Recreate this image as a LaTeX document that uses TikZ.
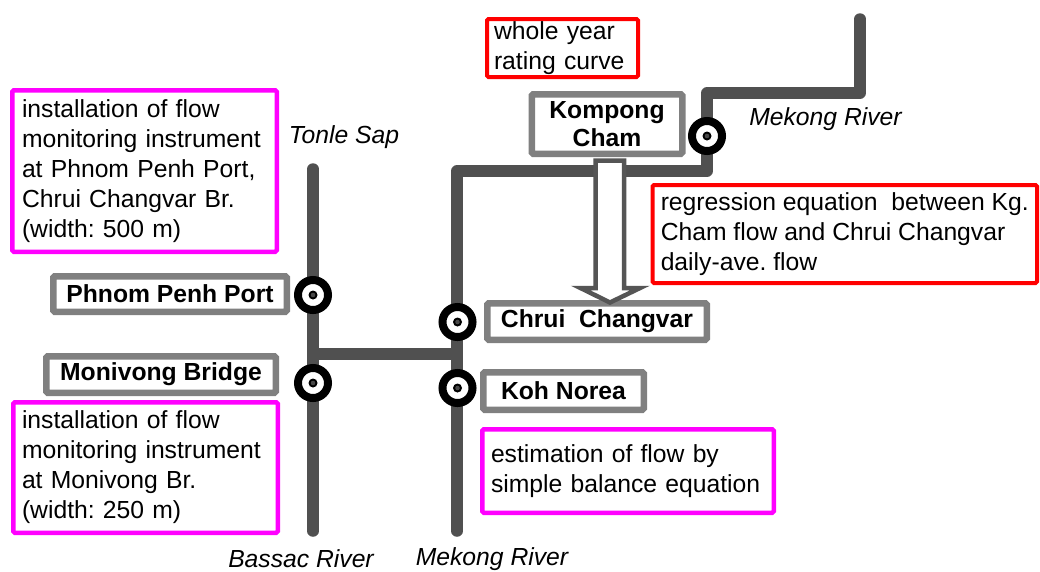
\documentclass[tikz,border=0pt]{standalone}
\usepackage{fontspec}
\setmainfont{Liberation Sans}
\definecolor{rivergray}{RGB}{80,80,80}
\definecolor{boxgray}{RGB}{128,128,128}
\definecolor{arrowgray}{RGB}{85,85,85}
\definecolor{dotgray}{RGB}{72,72,72}
\definecolor{mymagenta}{RGB}{255,0,255}
\definecolor{myred}{RGB}{255,0,0}
\begin{document}
\frenchspacing
\fontsize{24.7pt}{30pt}\selectfont
\begin{tikzpicture}[x=1pt,y=-1pt,
  river/.style={line width=11.5pt, draw=rivergray, line cap=round, line join=round},
  station/.style={circle, draw=black, line width=8pt, fill=white, minimum size=30pt, inner sep=0pt,
    path picture={\fill[black] (path picture bounding box.center) circle (4.5pt);
                  \fill[dotgray] (path picture bounding box.center) circle (2.3pt);}},
  sitebox/.style={draw=boxgray, line width=6.5pt, fill=white, rounded corners=1.5pt, font=\bfseries, inner sep=0pt, align=center},
  notebox/.style={line width=4.5pt, fill=white, rounded corners=1.5pt, align=left, inner ysep=0pt, anchor=north west},
  rivername/.style={font=\itshape, inner sep=0pt},
]
\fill[white] (0,0) rectangle (1040,571);
\useasboundingbox (0,0) rectangle (1040,571);

% rivers
\coordinate (tsTop) at (313,169);
\coordinate (bsBot) at (313,531);
\coordinate (mkBot) at (457,531);
\coordinate (mkTop) at (860,19);
\draw[river] (tsTop) -- (bsBot);
\draw[river] (mkBot) -- (457,171) -- (707,171) -- (707,93) -- (860,93) -- (mkTop);
\draw[river] (313,354) -- (457,354);

% river names
\node[rivername] (ts) at (344,137) {Tonle Sap};
\node[rivername] (mkU) at (825.5,119) {Mekong River};
\node[rivername] (bs) at (301,559) {Bassac River};
\node[rivername] (mkL) at (492,559) {Mekong River};

% note boxes
\node[notebox, draw=mymagenta, minimum width=264.5pt, minimum height=161.5pt, text width=245pt, inner xsep=9.75pt] (n1) at (10,88)
  {installation of flow\\monitoring instrument\\at Phnom Penh Port,\\Chrui Changvar Br.\\(width: 500 m)};
\node[notebox, draw=mymagenta, minimum width=264.5pt, minimum height=130.5pt, text width=247pt, inner xsep=8.75pt] (n2) at (11,400)
  {installation of flow\\monitoring instrument\\at Monivong Br.\\(width: 250 m)};
\node[notebox, draw=mymagenta, minimum width=291.5pt, minimum height=83.5pt, text width=274pt, inner xsep=8.75pt] (est) at (480,427)
  {estimation of flow by\\simple balance equation};
\node[notebox, draw=myred, line width=4pt, minimum width=151pt, minimum height=58pt, text width=137pt, inner xsep=7pt] (wy) at (485,17)
  {whole year\\rating curve};
\node[notebox, draw=myred, line width=4pt, minimum width=384.5pt, minimum height=98pt, inner xsep=0pt] (reg) at (650.5,183)
  {regression equation~ between Kg.\\Cham flow and Chrui Changvar\\daily-ave. flow};

% site boxes
\node[sitebox, minimum width=233.5pt, minimum height=35.5pt] (ppb) at (170,294) {Phnom Penh Port};
\node[sitebox, minimum width=229.5pt, minimum height=36.5pt] (mvb) at (161,374.5) {Monivong Bridge};
\node[sitebox, minimum width=219.5pt, minimum height=36.5pt] (ccb) at (597,321.5) {Chrui~ Changvar};
\node[sitebox, minimum width=160.5pt, minimum height=37.5pt] (knb) at (563.5,391) {Koh Norea};
\node[sitebox, minimum width=150.5pt, minimum height=59.5pt, font=\bfseries\fontsize{24.7pt}{28pt}\selectfont] (kgb) at (607,124) {Kompong\\Cham};

% stations
\node[station] (pp) at (313,295) {};
\node[station] (mv) at (313,383) {};
\node[station] (cc) at (457.5,322) {};
\node[station] (kn) at (457.5,388) {};
\node[station] (kg) at (707,136) {};

% hollow arrow from Kompong Cham to Chrui Changvar
\draw[line width=4.5pt, draw=arrowgray, fill=white, line join=miter]
  (595.5,160.5) -- (624,160.5) -- (624,288) -- (640,288) -- (610,302.5) -- (580.5,288) -- (595.5,288) -- cycle;
\end{tikzpicture}
\end{document}
